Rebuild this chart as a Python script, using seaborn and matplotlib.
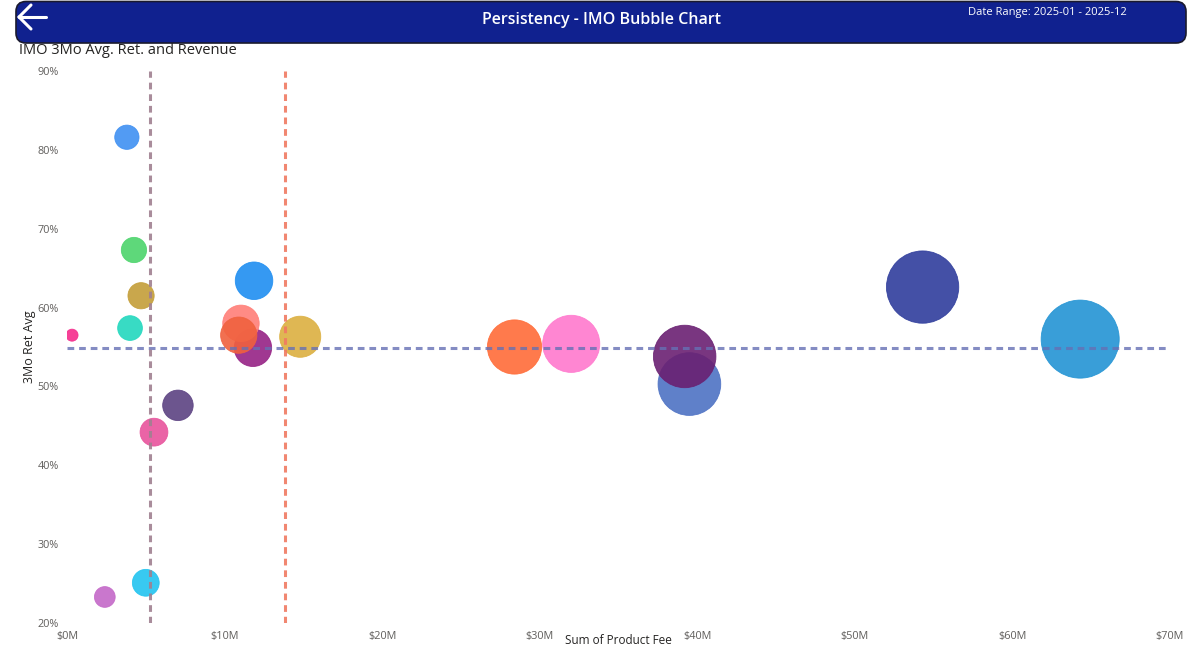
import numpy as np
import pandas as pd
import seaborn as sns
import matplotlib.pyplot as plt
import matplotlib.patches as patches

# donnees (frais en millions, retention en %)
imo = ["IMO 01", "IMO 02", "IMO 03", "IMO 04", "IMO 05", "IMO 06", "IMO 07",
       "IMO 08", "IMO 09", "IMO 10", "IMO 11", "IMO 12", "IMO 13", "IMO 14",
       "IMO 15", "IMO 16", "IMO 17", "IMO 18", "IMO 19", "IMO 20"]
product_fee = [0.32, 3.8, 4.25, 4.7, 4.0, 7.04, 5.52, 5.0, 2.4, 11.87,
               11.8, 11.04, 10.9, 14.8, 28.4, 32.0, 39.5, 39.2, 54.3, 64.3]
ret_avg = [56.5, 81.6, 67.3, 61.5, 57.4, 47.6, 44.2, 25.1, 23.3, 63.4,
           54.9, 58.0, 56.5, 56.3, 55.0, 55.4, 50.3, 53.8, 62.6, 56.0]
couleurs = ["#F52C8C", "#3F90F2", "#4CD46C", "#C49E38", "#22D8BE", "#5C4282",
            "#E8539C", "#22C4F0", "#C468C8", "#1F8EF1", "#962285", "#FF7E78",
            "#F0613E", "#DCB040", "#FF6C38", "#FF79CE", "#4E72C4", "#6A2072",
            "#2F3D9C", "#2394D4"]

avg_ret = 54.9      # ligne horizontale (moyenne)
seuil_1 = 5.27      # ligne verticale gauche
seuil_2 = 13.83     # ligne verticale droite

df = pd.DataFrame({"imo": imo, "fee": product_fee, "ret": ret_avg})

plt.rcParams["font.family"] = ["Open Sans", "DejaVu Sans"]

fig = plt.figure(figsize=(12.01, 6.48), dpi=100)
W, H = 1201, 648

# bandeau du haut
bandeau = fig.add_axes([0, 0, 1, 1], zorder=0)
bandeau.set_xlim(0, W)
bandeau.set_ylim(H, 0)
bandeau.axis("off")
bandeau.add_patch(patches.FancyBboxPatch((16, 1.5), 1170, 41.5,
                                         boxstyle="round,pad=0,rounding_size=10",
                                         facecolor="#10218F", edgecolor="#1a1a2e", linewidth=1.2))
bandeau.plot([19, 46], [17, 17], color="white", lw=2.2, solid_capstyle="round")
bandeau.plot([19, 31], [17, 5], color="white", lw=2.2, solid_capstyle="round")
bandeau.plot([19, 31], [17, 29], color="white", lw=2.2, solid_capstyle="round")
bandeau.text(601, 20, "Persistency - IMO Bubble Chart", color="white", fontsize=11.5,
             fontweight="semibold", ha="center", va="center")
bandeau.text(968, 13, "Date Range: 2025-01 - 2025-12", color="white", fontsize=8,
             ha="left", va="center")
bandeau.text(19, 51, "IMO 3Mo Avg. Ret. and Revenue", color="#252423", fontsize=10.5,
             fontweight="medium", ha="left", va="center")
# titre de l'axe x colle en bas de l'image
bandeau.text(618, 647, "Sum of Product Fee", color="#252423", fontsize=8.5,
             ha="center", va="bottom")

# zone du graphique
ax = fig.add_axes([67 / W, 1 - 623 / H, (1170 - 67) / W, (623 - 71) / H], zorder=1)
ax.patch.set_alpha(0)

# taille des bulles selon les frais
rayon_px = 3.5 + 4.43 * np.sqrt(df["fee"])
taille = (2 * rayon_px * 0.72) ** 2

sns.scatterplot(data=df, x="fee", y="ret", hue="imo", palette=couleurs,
                s=taille, alpha=0.9, linewidth=0.6, legend=False, ax=ax, zorder=2)
# contour de la meme couleur que la bulle
coll = ax.collections[-1]
coll.set_edgecolors(coll.get_facecolors())

ax.axhline(avg_ret, color="#6670B4", lw=2.2, ls=(0, (2.2, 1.6)), alpha=0.8, zorder=3)
ax.axvline(seuil_1, color="#A08090", lw=2.2, ls=(0, (2.2, 1.6)), alpha=0.9, zorder=3)
ax.axvline(seuil_2, color="#F07A62", lw=2.2, ls=(0, (2.2, 1.6)), alpha=0.9, zorder=3)

ax.set_xlim(0, 70)
ax.set_ylim(20, 90)
ax.set_xticks(np.arange(0, 71, 10))
ax.set_xticklabels([f"${v}M" for v in range(0, 71, 10)])
ax.set_yticks(np.arange(20, 91, 10))
ax.set_yticklabels([f"{v}%" for v in range(20, 91, 10)])
ax.tick_params(length=0, labelsize=7.8, labelcolor="#605E5C", pad=6)
for s in ax.spines.values():
    s.set_visible(False)
ax.set_xlabel("")
ax.set_ylabel("3Mo Ret Avg", fontsize=9, color="#252423", labelpad=1)

fig.savefig("out.png", dpi=100)
